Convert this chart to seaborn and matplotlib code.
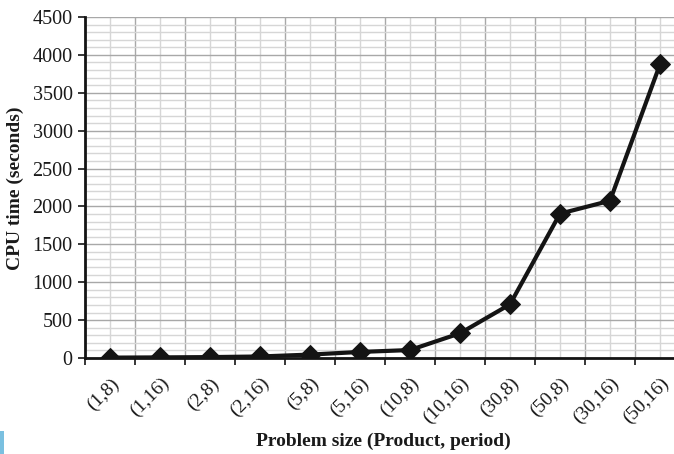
import matplotlib
matplotlib.use("Agg")
import matplotlib.pyplot as plt
import seaborn as sns
import pandas as pd
import numpy as np
from matplotlib.ticker import MultipleLocator, FixedLocator, NullFormatter, FixedFormatter
from matplotlib.patches import Rectangle

categories = ["(1,8)", "(1,16)", "(2,8)", "(2,16)", "(5,8)", "(5,16)",
              "(10,8)", "(10,16)", "(30,8)", "(50,8)", "(30,16)", "(50,16)"]
cpu_time = [5, 8, 12, 20, 45, 80, 105, 326, 708, 1905, 2075, 3875]

sns.set_theme(style="white")
plt.rcParams['font.family'] = ['Liberation Serif', 'DejaVu Serif']

W, H = 674, 454
fig = plt.figure(figsize=(W / 100, H / 100), dpi=100)
ax = fig.add_axes([85 / W, (H - 358) / H, 600 / W, 341 / H])

df = pd.DataFrame({"pos": np.arange(len(categories)), "cpu": cpu_time})
sns.lineplot(data=df, x="pos", y="cpu", ax=ax, color="#141414", linewidth=3.0,
             marker="D", markersize=10, markeredgecolor="#141414", zorder=5)

ax.set_xlim(-0.5, len(categories) - 0.5)
ax.set_ylim(0, 4500)

# y ticks/grid
ax.yaxis.set_major_locator(MultipleLocator(500))
ax.yaxis.set_minor_locator(MultipleLocator(100))
# x ticks: major at boundaries (no labels), minor at centres (labels)
ax.xaxis.set_major_locator(FixedLocator(np.arange(-0.5, len(categories), 1.0)))
ax.xaxis.set_major_formatter(NullFormatter())
ax.xaxis.set_minor_locator(FixedLocator(np.arange(len(categories))))
ax.xaxis.set_minor_formatter(FixedFormatter(categories))

ax.grid(which="major", color="#a8a8a8", linewidth=1.0)
ax.grid(which="minor", color="#d6d6d6", linewidth=1.0)
ax.set_axisbelow(True)

ax.tick_params(axis="y", which="major", direction="out", length=5, width=1.2,
               color="#141414", labelsize=14.5, left=True, pad=4,
               labelcolor="#1a1a1a")
ax.tick_params(axis="y", which="minor", length=0)
ax.tick_params(axis="x", which="major", direction="out", length=5, width=1.2,
               color="#141414", bottom=True)
ax.tick_params(axis="x", which="minor", length=0, labelsize=14, pad=12,
               labelcolor="#1a1a1a")
for lbl in ax.get_xticklabels(minor=True):
    lbl.set_rotation(45)
    lbl.set_ha("right")
    lbl.set_va("top")
    lbl.set_rotation_mode("anchor")

for s in ["top", "right"]:
    ax.spines[s].set_visible(False)
for s in ["left", "bottom"]:
    ax.spines[s].set_color("#141414")
    ax.spines[s].set_linewidth(2.0)

ax.set_xlabel("Problem size (Product, period)", fontsize=14, fontweight="bold",
              color="#1a1a1a")
ax.set_ylabel("CPU time (seconds)", fontsize=14, fontweight="bold",
              color="#1a1a1a")
ax.xaxis.label.set_va("center")
ax.yaxis.label.set_va("center")
ax.xaxis.set_label_coords((383 - 85) / 600, -(441 - 358) / 341)
ax.yaxis.set_label_coords(-(85 - 15) / 600, (358 - 188) / 341)

fig.patches.append(Rectangle((0, 0), 4 / W, 23 / H, transform=fig.transFigure,
                             facecolor="#7ac0e0", edgecolor="none"))

fig.savefig("out.png", dpi=100)
